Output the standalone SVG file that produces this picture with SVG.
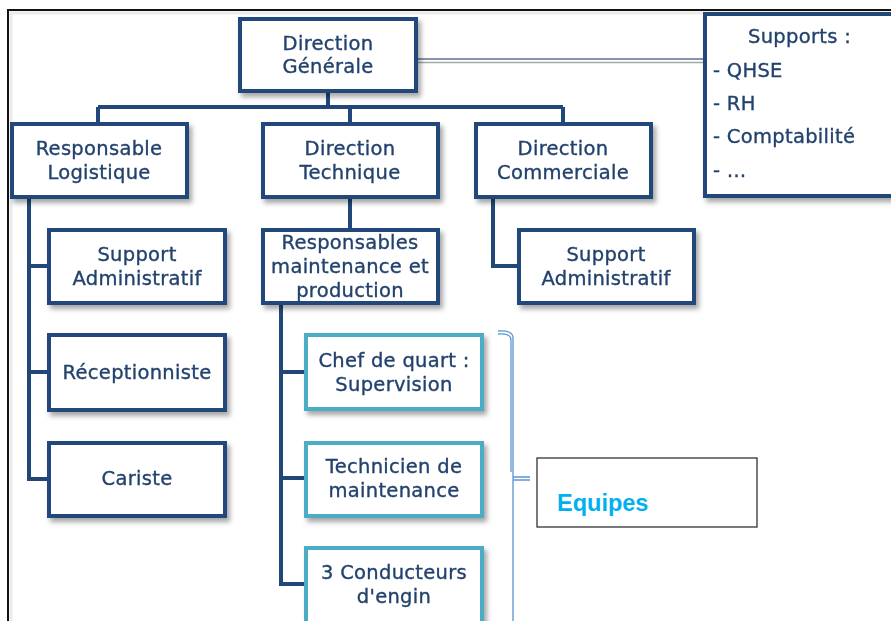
<svg xmlns="http://www.w3.org/2000/svg" width="891" height="621" viewBox="0 0 891 621">
<defs>
<filter id="sh" x="-10%" y="-10%" width="130%" height="140%">
<feDropShadow dx="3" dy="4" stdDeviation="2.5" flood-color="#000" flood-opacity="0.35"/>
</filter>
<style>
.n rect{fill:#fff;stroke:#21477a;stroke-width:4}
.t rect{fill:#fff;stroke:#4bacc6;stroke-width:4}
text{font-family:"DejaVu Sans","Open Sans",sans-serif;font-size:19.5px;fill:#23426e;stroke:#23426e;stroke-width:0.35px;letter-spacing:0.3px}
.c{text-anchor:middle}
.cn{fill:none;stroke:#21477a;stroke-width:4}
</style>
</defs>
<rect width="891" height="621" fill="#fff"/>
<path d="M8 621 V10 H891" fill="none" stroke="#111" stroke-width="2"/>
<path d="M11 621 V13 H891" fill="none" stroke="#ddd" stroke-width="3" opacity="0.6"/>

<g id="connectors">
<path class="cn" d="M328 92 V107 M98 107 H563 M98 107 V123 M350 107 V123 M563 107 V123"/>
<path class="cn" d="M29 197 V479 H48 M29 266 H48 M29 372 H48"/>
<path class="cn" d="M350 197 V229"/>
<path class="cn" d="M281 304 V584 H305 M281 372 H305 M281 478 H305"/>
<path class="cn" d="M493 197 V266 H518"/>
<line x1="417" y1="59" x2="704" y2="59" stroke="#5d7191" stroke-width="1.5"/>
<line x1="417" y1="62.5" x2="704" y2="62.5" stroke="#a6a6a6" stroke-width="1.5"/>
<path d="M498 331 Q513 330 513 338 V621 M498 334 Q511 333 511 340 V472 M513 477 H530 M513 480 H530" fill="none" stroke="#5b95d5" stroke-width="1.3"/>
</g>

<g id="dg" class="n" filter="url(#sh)"><rect x="240" y="19" width="176" height="72"/>
<text class="c" x="328" y="50">Direction</text><text class="c" x="328" y="73">Générale</text></g>

<g id="supports" class="n" filter="url(#sh)"><rect x="705" y="14" width="200" height="182"/>
<text x="748" y="43">Supports :</text>
<text x="713" y="77">- QHSE</text>
<text x="713" y="110">- RH</text>
<text x="713" y="143">- Comptabilité</text>
<text x="713" y="177">- …</text></g>

<g id="rl" class="n" filter="url(#sh)"><rect x="12" y="124" width="175" height="73"/>
<text class="c" x="99" y="155">Responsable</text><text class="c" x="99" y="179">Logistique</text></g>

<g id="dt" class="n" filter="url(#sh)"><rect x="263" y="124" width="175" height="73"/>
<text class="c" x="350" y="155">Direction</text><text class="c" x="350" y="179">Technique</text></g>

<g id="dc" class="n" filter="url(#sh)"><rect x="476" y="124" width="175" height="73"/>
<text class="c" x="563" y="155">Direction</text><text class="c" x="563" y="179">Commerciale</text></g>

<g id="sa1" class="n" filter="url(#sh)"><rect x="49" y="230" width="176" height="73"/>
<text class="c" x="137" y="261">Support</text><text class="c" x="137" y="285">Administratif</text></g>

<g id="rmp" class="n" filter="url(#sh)"><rect x="263" y="230" width="175" height="73"/>
<text class="c" x="350" y="249">Responsables</text><text class="c" x="350" y="273">maintenance et</text><text class="c" x="350" y="297">production</text></g>

<g id="sa2" class="n" filter="url(#sh)"><rect x="519" y="230" width="175" height="73"/>
<text class="c" x="606" y="261">Support</text><text class="c" x="606" y="285">Administratif</text></g>

<g id="rec" class="n" filter="url(#sh)"><rect x="49" y="335" width="176" height="75"/>
<text class="c" x="137" y="379">Réceptionniste</text></g>

<g id="car" class="n" filter="url(#sh)"><rect x="49" y="443" width="176" height="73"/>
<text class="c" x="137" y="485">Cariste</text></g>

<g id="cq" class="t" filter="url(#sh)"><rect x="306" y="335" width="176" height="74"/>
<text class="c" x="394" y="367">Chef de quart :</text><text class="c" x="394" y="391">Supervision</text></g>

<g id="tm" class="t" filter="url(#sh)"><rect x="306" y="443" width="176" height="73"/>
<text class="c" x="394" y="473">Technicien de</text><text class="c" x="394" y="497">maintenance</text></g>

<g id="ce" class="t" filter="url(#sh)"><rect x="306" y="548" width="176" height="90"/>
<text class="c" x="394" y="579">3 Conducteurs</text><text class="c" x="394" y="603">d'engin</text></g>

<g id="equipes"><rect x="537" y="458" width="220" height="69" fill="#fff" stroke="#333" stroke-width="1.3"/>
<text x="557" y="511" style="font-family:'Liberation Sans',Arial,sans-serif;font-weight:bold;font-size:23.5px;fill:#00b0f0;stroke:none;letter-spacing:0">Equipes</text></g>
</svg>
